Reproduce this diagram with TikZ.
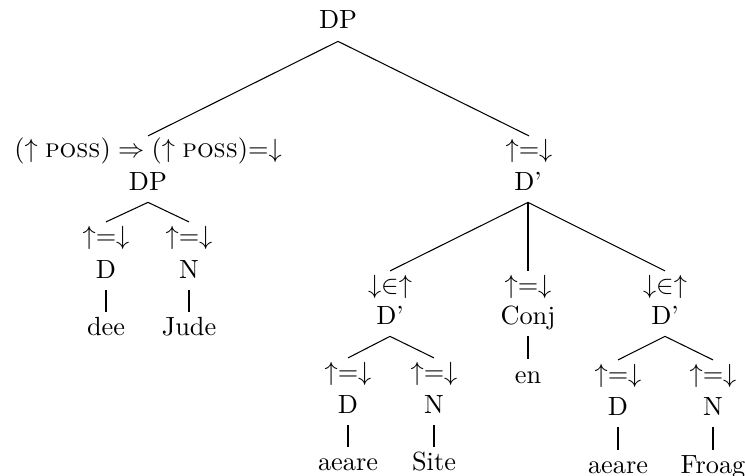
\documentclass[tikz,border=0pt]{standalone}
\begin{document}
\begin{tikzpicture}[x=0.3802pt,y=-0.3802pt,
  lbl/.style={anchor=base,inner sep=0pt},
  branch/.style={line width=0.4pt},
  stem/.style={line width=0.4pt}]
\useasboundingbox (0,0) rectangle (745,475);

% root
\node[lbl] (root) at (338,29) {DP};

% possessor DP
\node[lbl] (possA) at (148,158) {$(\uparrow \textsc{poss}) \Rightarrow (\uparrow \textsc{poss}){=}{\downarrow}$};
\node[lbl] (possDP) at (148,190) {DP};
\node[lbl] (aD1) at (106,244) {${\uparrow}{=}{\downarrow}$};
\node[lbl] (cD1) at (106,278) {D};
\node[lbl] (wDee) at (106,335) {dee};
\node[lbl] (aN1) at (189,244) {${\uparrow}{=}{\downarrow}$};
\node[lbl] (cN1) at (189,278) {N};
\node[lbl] (wJude) at (189,335) {Jude};

% head D'
\node[lbl] (headA) at (529,158) {${\uparrow}{=}{\downarrow}$};
\node[lbl] (headD) at (528,190) {D’};

% first conjunct
\node[lbl] (conjLA) at (390,293) {${\downarrow}{\in}{\uparrow}$};
\node[lbl] (conjL) at (390,324) {D’};
\node[lbl] (aD2) at (348,380) {${\uparrow}{=}{\downarrow}$};
\node[lbl] (cD2) at (348,413) {D};
\node[lbl] (wAeare1) at (348,470) {aeare};
\node[lbl] (aN2) at (434,380) {${\uparrow}{=}{\downarrow}$};
\node[lbl] (cN2) at (434,413) {N};
\node[lbl] (wSite) at (434,470) {Site};

% conjunction
\node[lbl] (conjA) at (528,293) {${\uparrow}{=}{\downarrow}$};
\node[lbl] (conj) at (528,324) {Conj};
\node[lbl] (wEn) at (528,383) {en};

% second conjunct
\node[lbl] (conjRA) at (665,293) {${\downarrow}{\in}{\uparrow}$};
\node[lbl] (conjR) at (665,324) {D’};
\node[lbl] (aD3) at (618,382) {${\uparrow}{=}{\downarrow}$};
\node[lbl] (cD3) at (618,415) {D};
\node[lbl] (wAeare2) at (618,473) {aeare};
\node[lbl] (aN3) at (713,382) {${\uparrow}{=}{\downarrow}$};
\node[lbl] (cN3) at (713,415) {N};
\node[lbl] (wFroag) at (713,473) {Froag};

% branches
\draw[branch] (possA.base) ++(0,8.4pt) -- ([yshift=-4.7pt]root.base) -- ([yshift=8.4pt]headA.base);
\draw[branch] ([yshift=8.4pt]aD1.base) -- ([yshift=-4.7pt]possDP.base) -- ([yshift=8.4pt]aN1.base);
\draw[branch] ([yshift=8.4pt]conjLA.base) -- ([yshift=-4.7pt]headD.base) -- ([yshift=8.4pt]conjRA.base);
\draw[stem] ([yshift=-4.7pt]headD.base) -- ([yshift=8.4pt]conjA.base);
\draw[branch] ([yshift=8.4pt]aD2.base) -- ([yshift=-4.7pt]conjL.base) -- ([yshift=8.4pt]aN2.base);
\draw[branch] ([yshift=8.4pt]aD3.base) -- ([yshift=-4.7pt]conjR.base) -- ([yshift=8.4pt]aN3.base);

% unary stems to the words
\draw[stem] ([yshift=-4.7pt]cD1.base) -- ([yshift=8.7pt]wDee.base);
\draw[stem] ([yshift=-4.7pt]cN1.base) -- ([yshift=8.7pt]wJude.base);
\draw[stem] ([yshift=-4.7pt]conj.base) -- ([yshift=9.2pt]wEn.base);
\draw[stem] ([yshift=-4.7pt]cD2.base) -- ([yshift=8.7pt]wAeare1.base);
\draw[stem] ([yshift=-4.7pt]cN2.base) -- ([yshift=8.7pt]wSite.base);
\draw[stem] ([yshift=-4.7pt]cD3.base) -- ([yshift=8.7pt]wAeare2.base);
\draw[stem] ([yshift=-4.7pt]cN3.base) -- ([yshift=8.7pt]wFroag.base);
\end{tikzpicture}
\end{document}
